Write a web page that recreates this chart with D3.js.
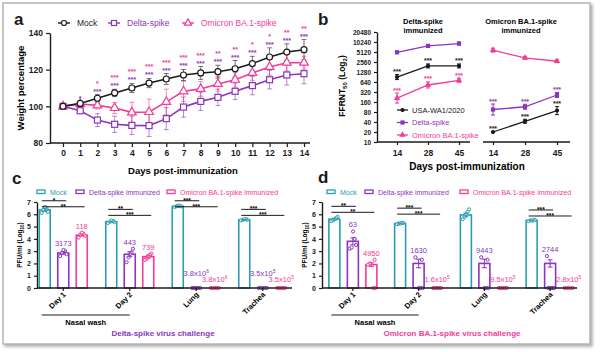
<!DOCTYPE html>
<html>
<head>
<meta charset="utf-8">
<script src="https://cdn.jsdelivr.net/npm/d3@7"></script>
<style>
  body { margin: 0; background: #fff; }
  text { font-family: "Liberation Sans", Arial, sans-serif; }
</style>
</head>
<body>
<div id="chart"></div>
<script>
const PURPLE = "#8b35c0", PINK = "#f23c95", TEAL = "#2c9db0", BLACK = "#1a1a1a";

// ---- panel a : body weight ----
const days = [0, 1, 2, 3, 4, 5, 6, 7, 8, 9, 10, 11, 12, 13, 14];
const mockWeight = [100, 101.6, 104.4, 107.3, 110, 112.7, 114.9, 117.1, 118.2, 118.9, 120.5, 123.3, 126.9, 129.6, 130.9];
const mockSD = [0, 1, 2, 2, 2.5, 2.5, 3, 3, 3.5, 3.5, 4.5, 4, 5, 4.5, 5.5];
const deltaWeight = [100, 97.6, 92.5, 90.2, 89.6, 89.5, 93.3, 99.6, 102.7, 104.9, 108.2, 111.3, 114.5, 117.1, 117.8];
const deltaSD = [0, 1.5, 3.5, 4.5, 5, 6, 6, 5.5, 5, 4.5, 4.5, 5, 5, 5.5, 5.5];
const omicronWeight = [100, 101.3, 100.5, 99.1, 96.7, 96.9, 102.4, 108.2, 109.5, 112.2, 114.5, 118.2, 121.5, 123.8, 123.8];
const omicronSD = [0, 1, 2, 3, 5.5, 7, 7, 5.5, 4, 4, 4, 4, 4.5, 4.5, 3.5];
const starsOmicronA = ["", "", "*", "***", "***", "***", "***", "***", "***", "**", "**", "*", "*", "**", "**"];
const starsDeltaA = ["", "*", "***", "***", "***", "***", "***", "***", "***", "***", "***", "***", "***", "***", "***"];

// ---- panel b : neutralizing titers ----
const titerDays = ["14", "28", "45"];
const titerTicks = [10, 20, 40, 80, 160, 320, 640, 1280, 2560, 5120, 10240, 20480];
const dImmWA1 = [900, 1950, 1950], dImmWA1Err = [0.25, 0.2, 0.2];
const dImmDelta = [5000, 7800, 9200], dImmDeltaErr = [0.12, 0.15, 0.15];
const dImmOmicron = [210, 520, 720], dImmOmicronErr = [0.5, 0.3, 0.2];
const oImmWA1 = [20, 42, 88], oImmWA1Err = [0.05, 0.2, 0.4];
const oImmDelta = [95, 115, 260], oImmDeltaErr = [0.55, 0.25, 0.25];
const oImmOmicron = [5800, 3400, 2700], oImmOmicronErr = [0.2, 0.12, 0.15];

// ---- panels c / d : viral loads ----
const sites = ["Day 1", "Day 2", "Lung", "Trachea"];
const groups = ["Mock", "Delta-spike immunized", "Omicron BA.1-spike immunized"];

const cMock = [6.35, 5.4, 6.65, 5.55], cMockSem = [0.12, 0.05, 0.03, 0.03];
const cDelta = [2.85, 2.75, 0, 0], cDeltaSem = [0.1, 0.2, 0, 0];
const cOmicron = [4.3, 2.55, 0, 0], cOmicronSem = [0.08, 0.12, 0, 0];
const cMockPts = [[6.1, 6.2, 6.4, 6.5, 6.6], [5.3, 5.35, 5.4, 5.45, 5.5], [6.6, 6.65, 6.65, 6.7, 6.7], [5.5, 5.55, 5.55, 5.6, 5.6]];
const cDeltaPts = [[2.6, 2.75, 2.85, 3.0, 3.1], [2.1, 3.2, 2.5, 2.9, 2.75], [0, 0, 0, 0, 0], [0, 0, 0, 0, 0]];
const cOmicronPts = [[4.1, 4.25, 4.35, 4.4, 4.5], [2.3, 2.8, 2.4, 2.7, 2.6], [0, 0, 0, 0, 0], [0, 0, 0, 0, 0]];
const cDeltaLabels = ["3173", "443", "3.8x10^6", "3.5x10^5"];
const cOmicronLabels = ["118", "739", "3.8x10^6", "3.5x10^5"];
const cStarsDelta = ["*", "**", "***", "***"];
const cStarsOmicron = ["**", "***", "***", "***"];
const cBracketLevel = [7.1, 6.4, 7.1, 6.4];

const dMock = [5.6, 5.25, 5.95, 5.5], dMockSem = [0.07, 0.03, 0.15, 0.02];
const dDelta = [3.8, 2.0, 2.0, 2.0], dDeltaSem = [0.28, 0.35, 0.35, 0.3];
const dOmicron = [1.9, 0, 0, 0], dOmicronSem = [0.15, 0, 0, 0];
const dMockPts = [[5.45, 5.8, 5.5, 5.7, 5.6], [5.2, 5.3, 5.25, 5.3, 5.25], [5.6, 6.4, 5.8, 6.2, 6.0], [5.45, 5.55, 5.5, 5.5, 5.5]];
const dDeltaPts = [[3.2, 3.5, 3.3, 4.0, 4.6], [2.5, 2.3, 0, 0, 0], [2.5, 2.3, 0, 0, 0], [2.6, 0, 0, 0, 0]];
const dOmicronPts = [[1.9, 2.3, 2.0, 0, 0], [0, 0, 0, 0, 0], [0, 0, 0, 0, 0], [0, 0, 0, 0, 0]];
const dDeltaLabels = ["63", "1630", "9443", "2744"];
const dOmicronLabels = ["4950", "1.6x10^5", "9.5x10^5", "2.8x10^5"];
const dStarsDelta = ["**", "***", "", "***"];
const dStarsOmicron = ["**", "***", "", "***"];
const dBracketLevel = [6.65, 6.5, 0, 6.35];


const svg = d3.select("#chart")
    .append("svg")
    .attr("width", 600)
    .attr("height", 352);

const defs = svg.append("defs");
const sh = defs.append("filter").attr("id", "shadow")
    .attr("x", "-5%").attr("y", "-5%").attr("width", "110%").attr("height", "110%");
sh.append("feDropShadow").attr("dx", 2).attr("dy", 2).attr("stdDeviation", 1.5)
    .attr("flood-color", "#777").attr("flood-opacity", 0.6);

svg.append("rect")
    .attr("x", 3).attr("y", 3).attr("width", 587).attr("height", 341)
    .attr("fill", "white").attr("stroke", "#b4b4b4").attr("stroke-width", 1.5)
    .attr("filter", "url(#shadow)");

function letter(x, y, t) {
    svg.append("text").attr("x", x).attr("y", y).text(t)
        .attr("font-size", "17px").attr("font-weight", "bold").attr("fill", BLACK);
}
letter(14, 25, "a");
letter(318, 25, "b");
letter(12, 184, "c");
letter(318, 183, "d");

function styleAxis(g, fs) {
    g.selectAll("path").attr("stroke", BLACK).attr("stroke-width", 1.4);
    g.selectAll("line").attr("stroke", BLACK).attr("stroke-width", 1.2);
    g.selectAll("text").attr("font-size", fs).attr("font-weight", "bold").attr("fill", BLACK)
        .attr("font-family", "Liberation Sans, Arial, sans-serif");
}

function marker(g, shape, x, y, color, size, filled) {
    const fill = filled ? color : "white";
    if (shape === "circle") {
        g.append("circle").attr("cx", x).attr("cy", y).attr("r", size / 2)
            .attr("fill", fill).attr("stroke", color).attr("stroke-width", 1.2);
    } else if (shape === "square") {
        g.append("rect").attr("x", x - size / 2).attr("y", y - size / 2)
            .attr("width", size).attr("height", size)
            .attr("fill", fill).attr("stroke", color).attr("stroke-width", 1.2);
    } else {
        g.append("path").attr("transform", `translate(${x},${y})`)
            .attr("d", d3.symbol(d3.symbolTriangle).size(size * size * 0.9)())
            .attr("fill", fill).attr("stroke", color).attr("stroke-width", 1.2);
    }
}

// ================= panel a =================
const gA = svg.append("g");
const xA = d3.scaleLinear().domain([0, 14]).range([63, 304]);
const yA = d3.scaleLinear().domain([80, 140]).range([143, 33]);

const axA = gA.append("g").attr("transform", "translate(50,0)")
    .call(d3.axisLeft(yA).tickValues([80, 100, 120, 140]).tickSize(4).tickSizeOuter(0));
styleAxis(axA, "8.5px");
const axAx = gA.append("g").attr("transform", "translate(0,143)")
    .call(d3.axisBottom(xA).tickValues(days).tickFormat(d3.format("d")).tickSize(4).tickSizeOuter(0));
axAx.select(".domain").attr("d", "M50,0H310");
styleAxis(axAx, "8.5px");

gA.append("text").attr("transform", "translate(24,88) rotate(-90)")
    .attr("text-anchor", "middle").attr("font-size", "9.5px").attr("font-weight", "bold")
    .text("Weight percentage");
gA.append("text").attr("x", 183).attr("y", 174).attr("text-anchor", "middle")
    .attr("font-size", "9.5px").attr("font-weight", "bold").text("Days post-immunization");

const seriesA = [
    {vals: deltaWeight, err: deltaSD, color: PURPLE, shape: "square"},
    {vals: omicronWeight, err: omicronSD, color: PINK, shape: "triangle"},
    {vals: mockWeight, err: mockSD, color: BLACK, shape: "circle"}
];
const lineA = d3.line().x((d, i) => xA(days[i])).y(d => yA(d));
seriesA.forEach(s => {
    const g = gA.append("g");
    s.vals.forEach((v, i) => {
        if (s.err[i] === 0) return;
        const x = xA(days[i]);
        g.append("line").attr("x1", x).attr("x2", x)
            .attr("y1", yA(v - s.err[i])).attr("y2", yA(v + s.err[i]))
            .attr("stroke", s.color).attr("stroke-width", 0.8).attr("opacity", 0.75);
        [v - s.err[i], v + s.err[i]].forEach(e => {
            g.append("line").attr("x1", x - 2.5).attr("x2", x + 2.5)
                .attr("y1", yA(e)).attr("y2", yA(e))
                .attr("stroke", s.color).attr("stroke-width", 0.8).attr("opacity", 0.75);
        });
    });
});
seriesA.forEach(s => {
    gA.append("path").datum(s.vals).attr("d", lineA)
        .attr("fill", "none").attr("stroke", s.color).attr("stroke-width", 1.6);
});
seriesA.forEach(s => {
    s.vals.forEach((v, i) => marker(gA, s.shape, xA(days[i]), yA(v), s.color, 6, false));
});

// significance stars over each day
days.forEach((d, i) => {
    const top = d3.max(seriesA, s => s.vals[i] + s.err[i]);
    const yb = yA(top) - 1;
    gA.append("text").attr("x", xA(d)).attr("y", yb).attr("text-anchor", "middle")
        .attr("font-size", "7px").attr("font-weight", "bold").attr("fill", PURPLE).text(starsDeltaA[i]);
    gA.append("text").attr("x", xA(d)).attr("y", yb - 8).attr("text-anchor", "middle")
        .attr("font-size", "7px").attr("font-weight", "bold").attr("fill", PINK).text(starsOmicronA[i]);
});

// legend a
const legA = [
    {label: "Mock", color: BLACK, shape: "circle", x: 58},
    {label: "Delta-spike", color: PURPLE, shape: "square", x: 108},
    {label: "Omicron BA.1-spike", color: PINK, shape: "triangle", x: 182}
];
legA.forEach(l => {
    gA.append("line").attr("x1", l.x).attr("x2", l.x + 12).attr("y1", 23).attr("y2", 23)
        .attr("stroke", l.color).attr("stroke-width", 1.4);
    marker(gA, l.shape, l.x + 6, 23, l.color, 5, false);
    gA.append("text").attr("x", l.x + 19).attr("y", 26).attr("font-size", "8.5px")
        .attr("fill", l.color).text(l.label);
});

// ================= panel b =================
const gB = svg.append("g");
const yB = d3.scaleLog().base(2).domain([10, 20480]).range([142, 32]);
const xBL = d3.scalePoint().domain(titerDays).range([397, 459]);
const xBR = d3.scalePoint().domain(titerDays).range([493, 557]);

const axB = gB.append("g").attr("transform", "translate(377,0)")
    .call(d3.axisLeft(yB).tickValues(titerTicks).tickFormat(d => d).tickSize(3).tickSizeOuter(0));
styleAxis(axB, "6.5px");
[[xBL, "M377,0H470"], [xBR, "M483,0H570"]].forEach(([x, dpath]) => {
    const ax = gB.append("g").attr("transform", "translate(0,142)")
        .call(d3.axisBottom(x).tickSize(3).tickSizeOuter(0));
    ax.select(".domain").attr("d", dpath);
    styleAxis(ax, "8.5px");
    ax.selectAll("text").attr("dy", "0.9em");
});

gB.append("text").attr("transform", "translate(345,86) rotate(-90)")
    .attr("text-anchor", "middle").attr("font-size", "8.5px").attr("font-weight", "bold")
    .call(t => {
        t.append("tspan").text("FFRNT");
        t.append("tspan").attr("font-size", "6px").attr("dy", 2).text("50");
        t.append("tspan").attr("dy", -2).text(" (Log");
        t.append("tspan").attr("font-size", "6px").attr("dy", 2).text("2");
        t.append("tspan").attr("dy", -2).text(")");
    });
gB.append("text").attr("x", 467).attr("y", 170).attr("text-anchor", "middle")
    .attr("font-size", "10px").attr("font-weight", "bold").text("Days post-immunization");

[[423, ["Delta-spike", "immunized"]], [521, ["Omicron BA.1-spike", "immunized"]]].forEach(([x, lines]) => {
    lines.forEach((l, i) => gB.append("text").attr("x", x).attr("y", 24 + i * 9)
        .attr("text-anchor", "middle").attr("font-size", "7.5px").attr("font-weight", "bold").text(l));
});

function titer(x, vals, errs, color, shape, stars) {
    const g = gB.append("g");
    const pts = vals.map((v, i) => [x(titerDays[i]), yB(v)]);
    vals.forEach((v, i) => {
        const cx = x(titerDays[i]);
        const lo = yB(v / Math.pow(2, errs[i])), hi = yB(v * Math.pow(2, errs[i]));
        g.append("line").attr("x1", cx).attr("x2", cx).attr("y1", lo).attr("y2", hi)
            .attr("stroke", color).attr("stroke-width", 1);
        [lo, hi].forEach(e => g.append("line").attr("x1", cx - 2).attr("x2", cx + 2)
            .attr("y1", e).attr("y2", e).attr("stroke", color).attr("stroke-width", 1));
        if (stars) {
            g.append("text").attr("x", cx).attr("y", hi - 0.5).attr("text-anchor", "middle")
                .attr("font-size", "7px").attr("font-weight", "bold").attr("fill", color).text("***");
        }
    });
    g.append("path").datum(pts).attr("d", d3.line())
        .attr("fill", "none").attr("stroke", color).attr("stroke-width", 1.3);
    pts.forEach(p => marker(g, shape, p[0], p[1], color, 3, true));
}
titer(xBL, dImmDelta, dImmDeltaErr, PURPLE, "square", false);
titer(xBL, dImmWA1, dImmWA1Err, BLACK, "circle", true);
titer(xBL, dImmOmicron, dImmOmicronErr, PINK, "triangle", true);
titer(xBR, oImmOmicron, oImmOmicronErr, PINK, "triangle", false);
titer(xBR, oImmDelta, oImmDeltaErr, PURPLE, "square", true);
titer(xBR, oImmWA1, oImmWA1Err, BLACK, "circle", true);

[["USA-WA1/2020", BLACK, "circle"], ["Delta-spike", PURPLE, "square"], ["Omicron BA.1-spike", PINK, "triangle"]]
    .forEach(([label, color, shape], i) => {
        const y = 110 + i * 12.5;
        gB.append("line").attr("x1", 397).attr("x2", 408).attr("y1", y).attr("y2", y)
            .attr("stroke", color).attr("stroke-width", 1.3);
        marker(gB, shape, 402.5, y, color, 3, true);
        gB.append("text").attr("x", 412).attr("y", y + 2.5).attr("font-size", "7.5px")
            .attr("fill", color).text(label);
    });

// ================= panels c and d =================
function labelText(g, x, y, str, color) {
    const t = g.append("text").attr("x", x).attr("y", y).attr("text-anchor", "middle")
        .attr("font-size", "7.5px").attr("fill", color);
    const parts = str.split("^");
    t.append("tspan").text(parts[0]);
    if (parts[1]) t.append("tspan").attr("font-size", "5px").attr("dy", -3).text(parts[1]);
}

function barPanel(p) {
    const g = svg.append("g");
    const y = d3.scaleLinear().domain([0, 7]).range([288, 202]);
    const x0 = d3.scaleBand().domain(sites).range(p.band);
    const x1 = d3.scalePoint().domain(groups).range([-18.5, 18.5]);
    const cx = (s, gr) => x0(s) + x0.bandwidth() / 2 + x1(gr);
    const colors = [TEAL, PURPLE, PINK];
    const means = [p.mock, p.delta, p.omicron];
    const sems = [p.mockSem, p.deltaSem, p.omicronSem];
    const pts = [p.mockPts, p.deltaPts, p.omicronPts];
    const bw = 11;
    const offs = [-3.2, 3.2, -1.2, 1.8, 0.2];
    const zeroOffs = [-4, -2, 0, 2, 4];

    const ay = g.append("g").attr("transform", `translate(${p.axisX},0)`)
        .call(d3.axisLeft(y).ticks(7).tickSize(3).tickSizeOuter(0));
    styleAxis(ay, "7px");

    sites.forEach((s, si) => {
        groups.forEach((gr, gi) => {
            const c = cx(s, gr), m = means[gi][si], e = sems[gi][si], col = colors[gi];
            g.append("rect").attr("x", c - bw / 2).attr("y", y(m))
                .attr("width", bw).attr("height", y(0) - y(m))
                .attr("fill", "white").attr("stroke", col).attr("stroke-width", 1.6);
            pts[gi][si].forEach((v, k) => {
                const ox = m === 0 ? zeroOffs[k] : (v === 0 ? zeroOffs[k] : offs[k]);
                g.append("circle").attr("cx", c + ox).attr("cy", y(v)).attr("r", 1.6)
                    .attr("fill", "white").attr("stroke", col).attr("stroke-width", 1);
            });
            if (e > 0) {
                g.append("line").attr("x1", c).attr("x2", c).attr("y1", y(m - e)).attr("y2", y(m + e))
                    .attr("stroke", col).attr("stroke-width", 1);
                [m - e, m + e].forEach(v => g.append("line").attr("x1", c - 2.5).attr("x2", c + 2.5)
                    .attr("y1", y(v)).attr("y2", y(v)).attr("stroke", col).attr("stroke-width", 1));
            }
        });
        // value labels
        [[1, p.deltaLabels, 12], [2, p.omicronLabels, 6]].forEach(([gi, labels, zoff]) => {
            const m = means[gi][si];
            const top = d3.max([m + sems[gi][si], d3.max(pts[gi][si])]);
            const ly = m === 0 ? y(0) - zoff : y(top) - 4;
            labelText(g, cx(s, groups[gi]), ly, labels[si], colors[gi]);
        });
        // significance brackets
        [[1, p.starsDelta[si], 0], [2, p.starsOmicron[si], 6]].forEach(([gi, st, dy]) => {
            if (!st) return;
            const ly = y(p.bracketLevel[si]) + dy;
            const xa = cx(s, groups[0]) - 3, xb = cx(s, groups[gi]) + 3;
            g.append("line").attr("x1", xa).attr("x2", xb).attr("y1", ly).attr("y2", ly)
                .attr("stroke", BLACK).attr("stroke-width", 1);
            g.append("text").attr("x", (xa + xb) / 2).attr("y", ly + 2).attr("text-anchor", "middle")
                .attr("font-size", "6.5px").attr("font-weight", "bold").text(st);
        });
    });

    const ax = g.append("g").attr("transform", "translate(0,288)")
        .call(d3.axisBottom(x0).tickSize(3).tickSizeOuter(0).tickFormat(""));
    ax.select(".domain").attr("d", `M${p.axisX},0H${p.axisEnd}`);
    styleAxis(ax, "7px");
    sites.forEach(s => {
        const c = x0(s) + x0.bandwidth() / 2;
        g.append("text").attr("transform", `translate(${c + 3},${295}) rotate(-45)`)
            .attr("text-anchor", "end").attr("font-size", "7.5px").attr("font-weight", "bold").text(s);
    });

    const nx1 = cx("Day 1", groups[0]) - 3, nx2 = x0("Day 2") + x0.bandwidth() / 2;
    g.append("line").attr("x1", nx1).attr("x2", nx2).attr("y1", 315).attr("y2", 315)
        .attr("stroke", BLACK).attr("stroke-width", 1);
    g.append("text").attr("x", (nx1 + nx2) / 2).attr("y", 325).attr("text-anchor", "middle")
        .attr("font-size", "7.5px").attr("font-weight", "bold").text("Nasal wash");
    g.append("text").attr("x", p.titleX).attr("y", 336).attr("text-anchor", "middle")
        .attr("font-size", "8px").attr("font-weight", "bold").attr("fill", p.titleColor).text(p.title);

    g.append("text").attr("transform", `translate(${p.axisX - 15},245) rotate(-90)`)
        .attr("text-anchor", "middle").attr("font-size", "6.5px").attr("font-weight", "bold")
        .call(t => {
            t.append("tspan").text("PFU/ml (Log");
            t.append("tspan").attr("font-size", "4.5px").attr("dy", 1.5).text("10");
            t.append("tspan").attr("dy", -1.5).text(")");
        });

    // legend
    p.legendX.forEach((lx, i) => {
        g.append("rect").attr("x", lx).attr("y", 190).attr("width", 8).attr("height", 3.5)
            .attr("fill", "white").attr("stroke", colors[i]).attr("stroke-width", 1.3);
        g.append("text").attr("x", lx + 13).attr("y", 194.5).attr("font-size", "7px")
            .attr("fill", colors[i]).text(groups[i]);
    });
}

barPanel({
    band: [30, 296], axisX: 37, axisEnd: 292,
    mock: cMock, mockSem: cMockSem, delta: cDelta, deltaSem: cDeltaSem, omicron: cOmicron, omicronSem: cOmicronSem,
    mockPts: cMockPts, deltaPts: cDeltaPts, omicronPts: cOmicronPts,
    deltaLabels: cDeltaLabels, omicronLabels: cOmicronLabels,
    starsDelta: cStarsDelta, starsOmicron: cStarsOmicron, bracketLevel: cBracketLevel,
    title: "Delta-spike virus challenge", titleColor: PURPLE, titleX: 163,
    legendX: [37, 76, 167]
});
barPanel({
    band: [320, 583], axisX: 322, axisEnd: 577,
    mock: dMock, mockSem: dMockSem, delta: dDelta, deltaSem: dDeltaSem, omicron: dOmicron, omicronSem: dOmicronSem,
    mockPts: dMockPts, deltaPts: dDeltaPts, omicronPts: dOmicronPts,
    deltaLabels: dDeltaLabels, omicronLabels: dOmicronLabels,
    starsDelta: dStarsDelta, starsOmicron: dStarsOmicron, bracketLevel: dBracketLevel,
    title: "Omicron BA.1-spike virus challenge", titleColor: PINK, titleX: 452,
    legendX: [327, 365, 460]
});
</script>
</body>
</html>
